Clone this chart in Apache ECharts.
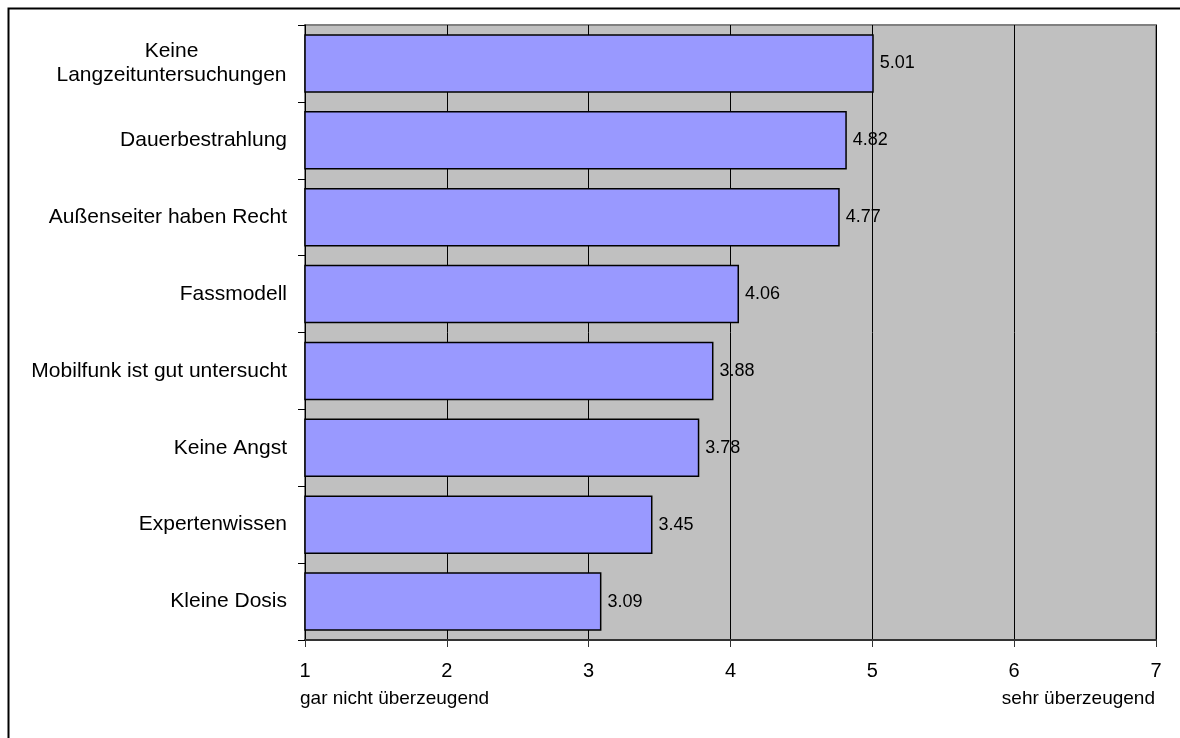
<!DOCTYPE html>
<html><head><meta charset="utf-8">
<script src="https://cdn.jsdelivr.net/npm/echarts@6/dist/echarts.min.js"></script>
<style>html,body{margin:0;padding:0;background:#fff}#c{width:1180px;height:738px}</style>
</head><body><div id="c"></div>
<script>
const categories = ['Keine\nLangzeituntersuchungen','Dauerbestrahlung','Außenseiter haben Recht','Fassmodell','Mobilfunk ist gut untersucht','Keine Angst','Expertenwissen','Kleine Dosis'];
const values = [5.01, 4.82, 4.77, 4.06, 3.88, 3.78, 3.45, 3.09];
const tickMin = 1, tickMax = 7, tickStep = 1;
const scaleLow = 'gar nicht überzeugend', scaleHigh = 'sehr überzeugend';

const FONT = '"Liberation Sans", Arial, sans-serif';
const CAT_SIZE = 21;
const mctx = document.createElement('canvas').getContext('2d');
mctx.font = CAT_SIZE + 'px ' + FONT;
let maxW = 0;
categories.forEach(c => { if (c.indexOf('\n')>=0) c.split('\n').forEach(l => { maxW = Math.max(maxW, mctx.measureText(l).width); }); });
function fmtCat(v){
  if (v.indexOf('\n') < 0) return v;
  return v.split('\n').map(l => '{c|' + l + '}').join('\n');
}

const chart = echarts.init(document.getElementById('c'), null, {renderer:'canvas'});
chart.setOption({
  animation:false,
  grid:{left:305,right:24,top:25,bottom:98,show:true,backgroundColor:'#c0c0c0',borderColor:'#808080',borderWidth:2},
  xAxis:{type:'value',min:tickMin,max:tickMax,interval:tickStep,
    axisLine:{show:true,onZero:false,lineStyle:{color:'#333',width:2}},
    axisTick:{show:true,length:7,lineStyle:{color:'#333'}},
    splitLine:{show:true,lineStyle:{color:'#000',width:1}},
    axisLabel:{color:'#000',fontFamily:FONT,fontSize:20,margin:21}},
  yAxis:{type:'category',data:categories,inverse:true,
    axisLine:{show:true,lineStyle:{color:'#000',width:1}},
    axisTick:{show:true,length:7,lineStyle:{color:'#000'}},
    axisLabel:{color:'#000',fontFamily:FONT,fontSize:CAT_SIZE,margin:18,align:'right',lineHeight:24,
      formatter:fmtCat,
      rich:{c:{fontFamily:FONT,fontSize:CAT_SIZE,color:'#000',align:'center',width:Math.ceil(maxW),lineHeight:24}}}},
  graphic:[
    {type:'rect',left:6,top:6,shape:{width:1300,height:900},style:{fill:'none',stroke:'#000',lineWidth:2},silent:true,z:-10},
    {type:'text',left:300,top:689,style:{text:scaleLow,font:'19px '+FONT,fill:'#000'}},
    {type:'text',right:25,top:689,style:{text:scaleHigh,font:'19px '+FONT,fill:'#000',textAlign:'right'}}
  ],
  series:[{type:'bar',data:values,barCategoryGap:'24%',
    itemStyle:{color:'#9999ff',borderColor:'#000',borderWidth:1.5},
    label:{show:true,position:'right',distance:6,color:'#000',fontFamily:FONT,fontSize:18,formatter:function(p){return p.value.toFixed(2);}}}]
});
</script></body></html>
